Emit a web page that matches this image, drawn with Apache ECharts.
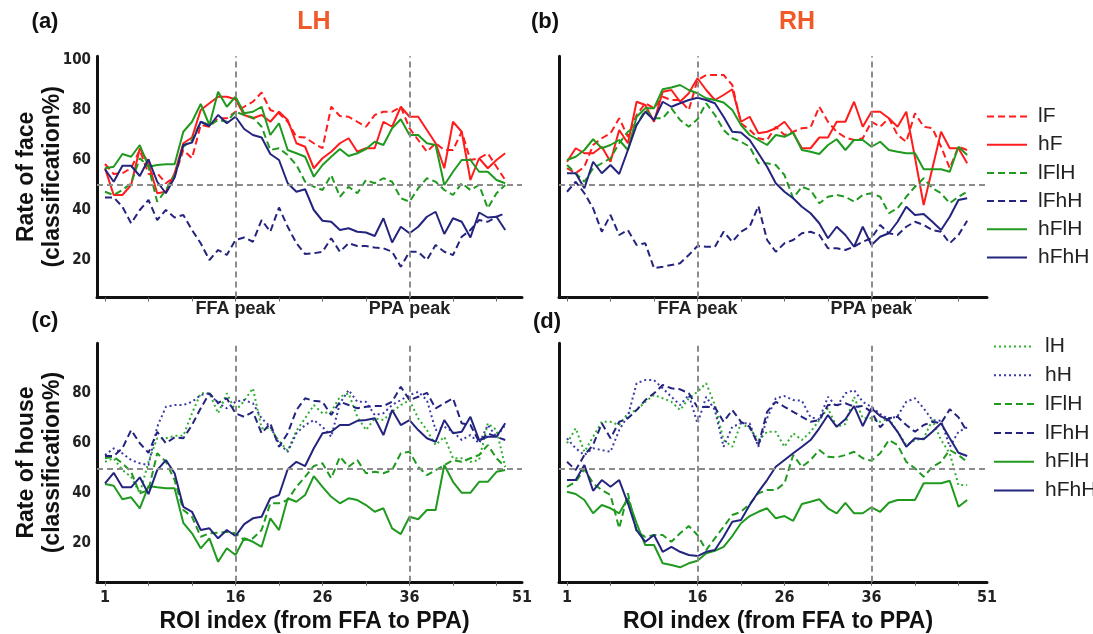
<!DOCTYPE html>
<html lang="en">
<head>
  <meta charset="UTF-8">
  <title>Face / house classification along ROI index</title>
  <script src="https://cdn.jsdelivr.net/npm/echarts@6/dist/echarts.min.js"></script>
  <style>
    html, body { margin: 0; padding: 0; background: #ffffff; }
    #chart { width: 1093px; height: 634px; }
  </style>
</head>
<body>
<div id="chart"></div>
<script>
  // ---- axis / label data ----
  const peakValues = [16, 36];
  const peakLabels = ['FFA peak', 'PPA peak'];
  const roiTickValues = [1, 16, 26, 36];
  const roiEndLabel = '51';
  const roiMinorTicks = [1, 6, 11, 16, 21, 26, 31, 36, 41, 46];
  const faceYTicks = [20, 40, 60, 80, 100];
  const houseYTicks = [20, 40, 60, 80];
  const chanceLevel = 50;

  // ---- (a) LH, rate of face ----
  const lhFace_lF   = [58.4,54.4,54.7,56.7,64,54.4,54.7,50.7,53.3,64,60.7,74,73.3,76.7,76.7,79.3,81.3,83.3,87,80,78.7,75.3,69.3,69,66.7,64.7,81.3,77.6,77.3,75.3,73.3,78,79.3,79.3,81.3,72.7,68,63.3,66.7,64,64,71.3,60,60.7,62.7,57.3,52];
  const lhFace_hF   = [56.7,46,46,50,64.7,58.7,46.7,47.3,54.7,66.7,69,80,82.7,85.3,85.3,84.3,78,76.7,78,75.3,79.3,76,66.7,65.3,56.7,60.7,63.3,66.7,68.7,63.3,64.7,64.7,75.3,73.3,81.3,77.3,77.3,72,66.7,56.7,75.3,71.3,52,60.7,56.7,60,62.7];
  const lhFace_lFlH = [47.3,46,48,50.7,60.7,57.3,43.3,48,54,65.3,68,75.3,74,76,75.3,79.3,78,77,73.3,64,64.7,62,58,51.3,49.3,48,54,45.3,49.3,46.7,52,50.7,52.7,51.3,44.7,43.3,48.7,52.7,51.3,48,46,50.7,48,50,40.7,46.7,50];
  const lhFace_lFhH = [45,45,41.3,34.7,40,44,36,40,37,38,32,26.7,20,24,22,28,29,27.3,36,31.3,41,33.3,26.7,22.4,22.7,23.3,28.7,23.3,26.7,25.6,25.6,25,24.7,23.3,17.3,23.3,23.3,20,26,23.3,22,29.3,32,36,35.3,37.3,38.7];
  const lhFace_hFlH = [56.7,57.3,62.4,61.3,66,57.3,58,58.3,58.3,71.3,75.3,82.4,74,87.3,81.3,85.3,78.7,79.3,81.3,70,74.7,64,62.7,61.3,53.3,58,61.3,64.4,61.6,62.7,64.4,67.3,66,72.7,76.3,70,70,66.7,66,50,55.3,60,60,55.3,55.3,52,50.7];
  const lhFace_hFhH = [56.3,51.3,57.7,57.7,53.6,60.3,51.3,46.7,53,66,67,75.3,73.6,78,74.7,77.3,72.4,70,69,62.4,60,50.7,47.3,48.3,40,35.7,35.3,32,32.7,31.3,31,29.6,36.7,27,33.3,30.7,33.3,37.3,39.3,30.4,36.7,35.3,29,39,37,37.3,32];

  // ---- (b) RH, rate of face ----
  const rhFace_lF   = [56.7,54.7,57.3,66,68.7,70.7,76.7,69.3,78,82.7,80.7,85.3,84,84,80,92,94,94,94,90,74.7,72,68.7,68,73.3,70,71.3,72.7,73,81.3,75.3,71.3,69,68,68.7,75.3,73.3,76.7,70,67.3,78.7,73.3,72.7,65.3,56.7,65.3,64];
  const rhFace_hF   = [59.3,64.7,62.7,62.7,65.3,59.3,72,66.7,83.3,82,75.3,87.3,88,83.3,86.7,92.7,88,84,86,88.3,75.3,77.3,70.7,71.3,72.7,75.3,70.7,64.7,64.7,69,69,75.3,75.3,83.3,73.3,79.3,79.3,76.7,73.3,79.3,61,42,56.7,71.3,64.7,64.7,58.7];
  const rhFace_lFlH = [58,54.7,51.3,56.7,58.7,60.7,66.7,71.3,74,80,76.7,76.7,80.7,76,73.3,76.3,82.7,78,72,68.7,67.3,65.3,58.7,58.7,58,54,44.7,49.3,48,42.7,45.3,46,45.3,43.3,46,46.7,45.3,38.7,40.7,45.3,49.3,52.7,48.7,46.7,42.7,45.3,47.3];
  const rhFace_lFhH = [47.3,51.3,46.7,40.7,31.3,38,30,32,26,26.7,16.7,17.3,18,18.7,22,25.6,25.3,25.3,31.3,27.3,31.3,33.3,41.6,28,23.3,26.7,28,30.7,31.3,30,24.7,24.7,24,25.3,27.3,28.7,34,30.7,30,33.3,35.3,34,32,31.3,26.7,30,35.7];
  const rhFace_hFlH = [60,61.3,64,68.3,64.7,66,68,64,77.3,80.7,80.7,88.3,89,90,88,86.7,84.7,84,83,80,74,70,68,66,70,69.3,71,64,63.3,62.4,66,68.3,64,68,68,65.3,67.3,64,63.3,62.7,62.7,56.3,56.3,56.3,55.3,65.3,62];
  const rhFace_hFhH = [54.7,54.7,48.7,59.3,54.7,58,54.4,64,74,79.3,76,83.3,81.3,82.7,84,84.9,84,82.7,77.3,71.3,71,68,62.7,57.3,50.7,47.3,44.7,41.3,38.7,34.7,28.7,33.3,30,25.3,33.3,26,29.3,30.7,35.3,41.3,38,38.4,35.3,32,37.3,44,44.7];

  // ---- (c) LH, rate of house ----
  const lhHouse_lH   = [52.6,54,49.3,46.6,40,52.6,62,62,63,63,72,80,80,72,80,73,77,82,66,66,61,57,65,70,75.3,72,72.6,78.6,80,70.6,65.3,70,69.3,72.6,75.3,77.3,70,65.3,59.3,62.6,54,54,52.6,53.3,68,65.3,50.6];
  const lhHouse_hH   = [55.3,58,56,53.3,52,51.3,66.6,74.6,75.3,75.3,76.6,79.3,80,76,74,76.6,77.3,76,70,66.6,60,56.6,64,67.3,69.3,66.6,62.6,76,81.3,76.6,76.6,71.3,72,75.3,77.3,79.3,80.6,77.3,65.3,66.6,64.6,61.3,63.3,60,67.3,62.6,67.3];
  const lhHouse_lFlH = [54,54.6,52,48.6,40,41.3,56,52.6,45.3,33.3,30.6,22.6,24,24.2,24.6,24,21.3,22,25.3,36,36,37.3,42.6,46.6,50.9,52,46,54.6,50.6,53.3,48,48.6,48,49.3,56,56.6,50.6,47.3,49.3,51.3,53.3,52.6,54,55.3,59.3,54,50.6];
  const lhHouse_lFhH = [54.9,54.9,58,65.3,60,56.2,64.6,60,62.4,62,67.3,74,80,76.2,78,72,70.6,72.6,64,68,58.6,64,73.3,78,77,76.6,71.3,76.6,75.3,74,74.6,74.9,74.9,76.6,82.6,77.3,78.6,80.2,74,76,78,68,67.3,60.6,64,62.6,61.3];
  const lhHouse_hFlH = [43.7,43,37.6,38.4,34,42.9,42.4,42,42,28.2,24,18,22,12.6,18,15.3,22,20.6,18.6,30,25.3,38,36.6,39.3,46.9,42.6,38.6,36,38,37.3,35.3,32.6,34,26,23.7,30.6,29.6,33.3,33.3,51.3,44.6,40.2,40.2,44.6,44.6,48.6,49.3];
  const lhHouse_hFhH = [44,48.2,42.4,42.4,46.4,39.7,49.3,53.3,48,34.6,32.6,25.3,26,22,25.3,22.9,27.7,30,30.6,38,39.3,49.6,52.6,50.9,58,64,64.6,67.3,67.3,69,69.3,70,63.3,73.3,67.3,69.3,65.3,62,60.6,69.3,64,64.6,70.6,61.3,62.6,62.6,68];

  // ---- (d) RH, rate of house ----
  const rhHouse_lH   = [60,66,56.6,62.6,68.6,68.6,67.3,72,73.3,76.6,79.3,78,76.6,73.3,78,80.6,84,75.3,61.3,58.6,68,66,61.3,64.6,64.6,58.6,64,61.3,64.6,69.3,74,66.6,67.7,78.6,70,70,68.6,70,64.6,59.3,61.3,62,69.3,61.3,56,43.3,43.3];
  const rhHouse_hH   = [62,58,55.3,58,57.3,56.6,65.3,70.9,84,85.3,85.3,82,78.6,75.3,79.3,68,78.6,73.3,58.6,66.6,68,68,58.6,70,78,78.9,77.3,77,70.4,69.6,78.6,74.6,80,81.3,76.6,74.6,71.7,69.6,70.9,76.6,78,74,69.3,69,58.6,64.6,66.4];
  const rhHouse_lFlH = [42.6,44.6,49.6,44,41.3,39.3,26,40,24.6,22.6,23.3,23.3,20.6,24,26.9,23.3,17.3,22,26.6,31.3,32.6,35.7,40,41.3,41.3,44,55.3,50.6,53.3,57.3,54.6,54.4,55.3,56.6,54,53,56,61.3,59.3,52.6,50,46.6,50.6,52.6,57.3,55.3,52.6];
  const rhHouse_lFhH = [52.6,49.3,55.3,59.3,68,62,68.6,70,73.3,77.3,80,83.3,82,81.6,80,74.4,74.6,74.4,68.6,73.3,68.6,66.6,59.3,72.6,76.6,74.6,72.6,70.6,68.6,69.3,75.3,75.3,76,74.6,74.9,72.6,66.4,70,70.6,67.3,64.6,67.3,68.6,68,73.6,70.4,64.6];
  const rhHouse_hFlH = [40.6,39.7,37.3,32,35.3,34,32,38,28,19.3,19.3,12,11.3,10.4,12,13,16,17,18.6,22.9,28,30.9,32.6,34,30,30.9,29,35.7,36.6,37.6,34,32,36.2,32,32,34.4,32.6,36.2,37.3,37.3,37.3,44,44,44,45,34.6,37.3];
  const rhHouse_hFhH = [45.3,45.3,51.3,41,45.3,42.6,45.3,36,25.3,20.6,23.3,16.6,18.6,16.6,15.3,14.9,16.6,17.3,22.6,28.6,29.3,35.3,40.6,45.3,50.6,53.3,56,58.6,61.3,66,71.3,66.6,69.6,74.9,66.9,74,70.9,69.3,64.6,58.6,62,61.6,64.6,68,62,56.2,54.9];

  // ---- styles ----
  const RED = '#ff1c1c', GREEN = '#1f9a1f', NAVY = '#24247f', LGREEN = '#30b030', BLUE = '#3a3aa8';
  const DASH = [7, 4], DOT = [2, 3];
  const styleOf = {
    lF:   { color: RED,    type: DASH },
    hF:   { color: RED,    type: 'solid' },
    lH:   { color: LGREEN, type: DOT },
    hH:   { color: BLUE,   type: DOT },
    lFlH: { color: GREEN,  type: DASH },
    lFhH: { color: NAVY,   type: DASH },
    hFlH: { color: GREEN,  type: 'solid' },
    hFhH: { color: NAVY,   type: 'solid' }
  };

  const narrow = '"Liberation Sans Narrow", "DejaVu Sans Condensed", "Liberation Sans", sans-serif';
  const sans = '"Liberation Sans", Arial, sans-serif';

  const xMin = 0.08;
  const panels = [
    { grid: { left: 97,  top: 56.25, width: 425, height: 241.25 }, xMax: 48.93, yMin: 5,   yMax: 101.5, face: true,
      series: [['lF', lhFace_lF], ['hF', lhFace_hF], ['lFlH', lhFace_lFlH], ['lFhH', lhFace_lFhH], ['hFlH', lhFace_hFlH], ['hFhH', lhFace_hFhH]] },
    { grid: { left: 559, top: 56.25, width: 428, height: 241.25 }, xMax: 49.28, yMin: 5,   yMax: 101.5, face: true,
      series: [['lF', rhFace_lF], ['hF', rhFace_hF], ['lFlH', rhFace_lFlH], ['lFhH', rhFace_lFhH], ['hFlH', rhFace_hFlH], ['hFhH', rhFace_hFhH]] },
    { grid: { left: 97,  top: 343.3, width: 425, height: 238.5 }, xMax: 48.93, yMin: 4.6, yMax: 100, face: false,
      series: [['lH', lhHouse_lH], ['hH', lhHouse_hH], ['lFlH', lhHouse_lFlH], ['lFhH', lhHouse_lFhH], ['hFlH', lhHouse_hFlH], ['hFhH', lhHouse_hFhH]] },
    { grid: { left: 559, top: 343.3, width: 428, height: 238.5 }, xMax: 49.28, yMin: 4.6, yMax: 100, face: false,
      series: [['lH', rhHouse_lH], ['hH', rhHouse_hH], ['lFlH', rhHouse_lFlH], ['lFhH', rhHouse_lFhH], ['hFlH', rhHouse_hFlH], ['hFhH', rhHouse_hFhH]] }
  ];

  const grids = [], xAxes = [], yAxes = [], series = [];
  panels.forEach((p, k) => {
    const isLeft = k % 2 === 0;
    grids.push(p.grid);
    const xMax = p.xMax;
    xAxes.push({
      type: 'value', gridIndex: k, min: xMin, max: xMax,
      splitLine: { show: false },
      axisLine: { lineStyle: { color: '#111', width: 3 } },
      axisTick: { show: true, customValues: roiMinorTicks, length: 4, lineStyle: { color: '#666', width: 1 } },
      axisLabel: p.face ? {
        customValues: peakValues,
        formatter: v => peakLabels[peakValues.indexOf(v)],
        fontFamily: sans, fontWeight: 'bold', fontSize: 18, color: '#222', margin: 3
      } : {
        customValues: roiTickValues.concat([xMax]),
        formatter: v => (v === xMax ? roiEndLabel : String(v)),
        fontFamily: narrow, fontWeight: 'bold', fontSize: 16, color: '#222', margin: 8
      },
      name: p.face ? '' : 'ROI index (from FFA to PPA)',
      nameLocation: 'middle', nameGap: 28,
      nameTextStyle: { fontFamily: sans, fontWeight: 'bold', fontSize: 23, color: '#111', padding: [0, 0, 0, 10] }
    });
    yAxes.push({
      type: 'value', gridIndex: k, min: p.yMin, max: p.yMax,
      splitLine: { show: false },
      axisLine: { show: true, lineStyle: { color: '#111', width: 3 } },
      axisTick: { show: false },
      axisLabel: {
        show: isLeft,
        customValues: p.face ? faceYTicks : houseYTicks,
        fontFamily: narrow, fontWeight: 'bold', fontSize: 15, color: '#222', margin: 6
      },
      name: isLeft ? (p.face ? 'Rate of face\n(classification%)' : 'Rate of house\n(classification%)') : '',
      nameLocation: 'middle', nameGap: 31, nameRotate: 90, nameMoveOverlap: false,
      nameTextStyle: { fontFamily: sans, fontWeight: 'bold', fontSize: 23, lineHeight: 26, color: '#111' }
    });
    p.series.forEach(([name, vals], j) => {
      const st = styleOf[name];
      const s = {
        name: name, type: 'line', xAxisIndex: k, yAxisIndex: k,
        data: vals.map((v, i) => [i + 1, v]),
        symbol: 'none', silent: true,
        color: st.color,
        lineStyle: { color: st.color, width: 2, type: st.type }
      };
      if (j === 0) {
        s.markLine = {
          silent: true, symbol: 'none', label: { show: false },
          lineStyle: { color: '#8c8c8c', width: 2, type: [6, 4] },
          data: [{ yAxis: chanceLevel }].concat(peakValues.map(v => ({ xAxis: v })))
        };
      }
      series.push(s);
    });
  });

  const legendCommon = {
    orient: 'vertical', selectedMode: false, itemWidth: 40, itemHeight: 14,
    itemStyle: { opacity: 0 },
    textStyle: { fontFamily: sans, fontSize: 21, lineHeight: 20, color: '#222', padding: [0, 0, 0, 6] }
  };

  const panelText = (text, x, y, color, size) => ({
    type: 'text', x: x, y: y,
    style: { text: text, fill: color, font: 'bold ' + size + 'px ' + sans, textAlign: 'center', textVerticalAlign: 'middle' }
  });

  const chart = echarts.init(document.getElementById('chart'));
  chart.setOption({
    animation: false,
    backgroundColor: '#ffffff',
    grid: grids,
    xAxis: xAxes,
    yAxis: yAxes,
    series: series,
    legend: [
      Object.assign({ data: ['lF', 'hF', 'lFlH', 'lFhH', 'hFlH', 'hFhH'], left: 981, top: 101, itemGap: 7.2 }, legendCommon),
      Object.assign({ data: ['lH', 'hH', 'lFlH', 'lFhH', 'hFlH', 'hFhH'], left: 988, top: 331, itemGap: 7.8 }, legendCommon)
    ],
    graphic: [
      panelText('(a)', 45, 22, '#111', 22),
      panelText('LH', 314, 22, '#f05a28', 25),
      panelText('(b)', 545, 22, '#111', 22),
      panelText('RH', 797, 22, '#f05a28', 25),
      panelText('(c)', 45, 321, '#111', 22),
      panelText('(d)', 547, 322, '#111', 22)
    ]
  });
</script>
</body>
</html>
